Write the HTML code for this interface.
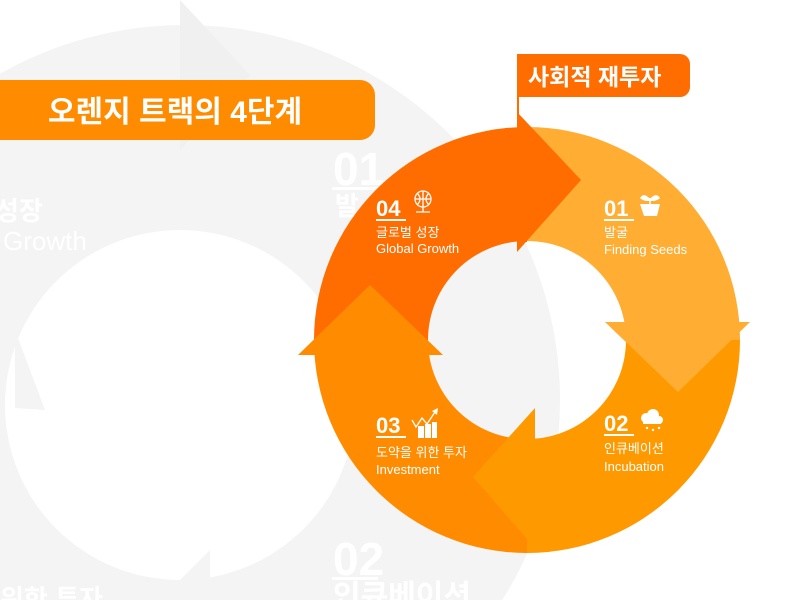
<!DOCTYPE html>
<html><head><meta charset="utf-8"><style>
html,body{margin:0;padding:0;background:#fff;width:800px;height:600px;overflow:hidden;}
svg{display:block;}
text{font-family:"Liberation Sans","Noto Sans CJK KR",sans-serif;}
</style></head><body>
<svg width="800" height="600" viewBox="0 0 800 600" xmlns="http://www.w3.org/2000/svg">
<defs><clipPath id="c"><rect x="0" y="0" width="800" height="600"/></clipPath></defs>
<g clip-path="url(#c)">
<!-- ghost background ring -->
<circle cx="185" cy="400" r="375" fill="#f4f4f4"/>
<polygon points="180,0 250,75 180,150" fill="#f0f0f0"/>
<circle cx="180" cy="405" r="175" fill="#fff"/>
<polygon points="15,408 15,330 45,410" fill="#f4f4f4"/>
<polygon points="210,582 210,550 175,585" fill="#f4f4f4"/>
<g fill="#fff" font-weight="bold">
<text x="333" y="185" font-size="46">01</text>
<text x="333" y="575" font-size="46">02</text>
<text x="333" y="606" font-size="30">인큐베이션</text>
<text x="-5" y="220" font-size="26">성장</text>
<text x="3" y="250" font-size="26" font-weight="normal">Growth</text>
<text x="0" y="608" font-size="26">위한 투자</text>
<text x="335" y="215" font-size="26">발</text>
</g>
<rect x="332" y="187" width="46" height="3" fill="#fff"/>
<rect x="332" y="577" width="46" height="3" fill="#fff"/>
<!-- title banner -->
<path d="M0,80 H360 a15,15 0 0 1 15,15 V125 a15,15 0 0 1 -15,15 H0 Z" fill="#ff8c00"/>
<text x="175" y="122" font-size="30" font-weight="bold" fill="#fff" text-anchor="middle">오렌지 트랙의 4단계</text>
<!-- flag -->
<rect x="517" y="54" width="2" height="75" fill="#ff6d00"/>
<path d="M517,54 H680 a10,10 0 0 1 10,10 V87 a10,10 0 0 1 -10,10 H517 Z" fill="#ff6d00"/>
<text x="528" y="85" font-size="23" font-weight="bold" fill="#fff">사회적 재투자</text>
<!-- main ring sectors -->
<path d="M527,127 A213,213 0 0 1 740,340 L626,340 A99,99 0 0 0 527,241 Z" fill="#ffad33"/>
<path d="M740,340 A213,213 0 0 1 527,553 L527,439 A99,99 0 0 0 626,340 Z" fill="#ff9900"/>
<path d="M527,553 A213,213 0 0 1 314,340 L428,340 A99,99 0 0 0 527,439 Z" fill="#ff8c00"/>
<path d="M314,340 A213,213 0 0 1 527,127 L527,241 A99,99 0 0 0 428,340 Z" fill="#ff6d00"/>
<!-- arrowheads -->
<polygon points="517,112 581,180 517,252" fill="#ff6d00"/>
<rect x="517" y="127" width="10" height="115" fill="#ff6d00"/>
<polygon points="605,322 750,322 678,392" fill="#ffad33"/>
<polygon points="535,408 535,548 473,477" fill="#ff9900"/>
<polygon points="298,355 443,355 370,285" fill="#ff8c00"/>
<!-- labels -->
<g fill="#fff">
<text x="376" y="216" font-size="22" font-weight="bold">04</text>
<rect x="376" y="219" width="30" height="2"/>
<text x="376" y="237" font-size="13">글로벌 성장</text>
<text x="376" y="253" font-size="13">Global Growth</text>
<text x="604" y="216" font-size="22" font-weight="bold">01</text>
<rect x="604" y="219" width="30" height="2"/>
<text x="604" y="237" font-size="13">발굴</text>
<text x="604" y="254" font-size="13">Finding Seeds</text>
<text x="604" y="431" font-size="22" font-weight="bold">02</text>
<rect x="604" y="434" width="30" height="2"/>
<text x="604" y="453" font-size="13">인큐베이션</text>
<text x="604" y="471" font-size="13">Incubation</text>
<text x="376" y="433" font-size="22" font-weight="bold">03</text>
<rect x="376" y="436" width="30" height="2"/>
<text x="376" y="457" font-size="13">도약을 위한 투자</text>
<text x="376" y="474" font-size="13">Investment</text>
</g>
<!-- icons -->
<g stroke="#fff" fill="none" stroke-width="1.3">
<circle cx="423" cy="199" r="8"/><path d="M415,199 H431 M423,191 V207 M417,193 Q423,199 417,205 M429,193 Q423,199 429,205"/>
<path d="M416,212 H430 M423,207 V212"/>
<path d="M412,420 L416,427 L422,418 L427,424 L435,412"/>
</g>
<g fill="#fff">
<path d="M640,204 H660 L657,216 H644 Z"/><path d="M650,204 V198 M650,200 Q644,193 641,198 Q645,201 650,200 Q656,193 659,198 Q655,201 650,200" stroke="#fff" stroke-width="1.5"/>
<circle cx="646" cy="418" r="5"/><circle cx="653" cy="415" r="6"/><circle cx="659" cy="420" r="4"/><rect x="643" y="418" width="18" height="6"/>
<circle cx="647" cy="428" r="1.2"/><circle cx="653" cy="430" r="1.2"/><circle cx="659" cy="428" r="1.2"/>
<rect x="418" y="426" width="6" height="12"/><rect x="425" y="424" width="6" height="14"/><rect x="432" y="422" width="5" height="16"/>
<polygon points="438,408 437,415 432,411"/>
</g>
</g>
</svg>
</body></html>
